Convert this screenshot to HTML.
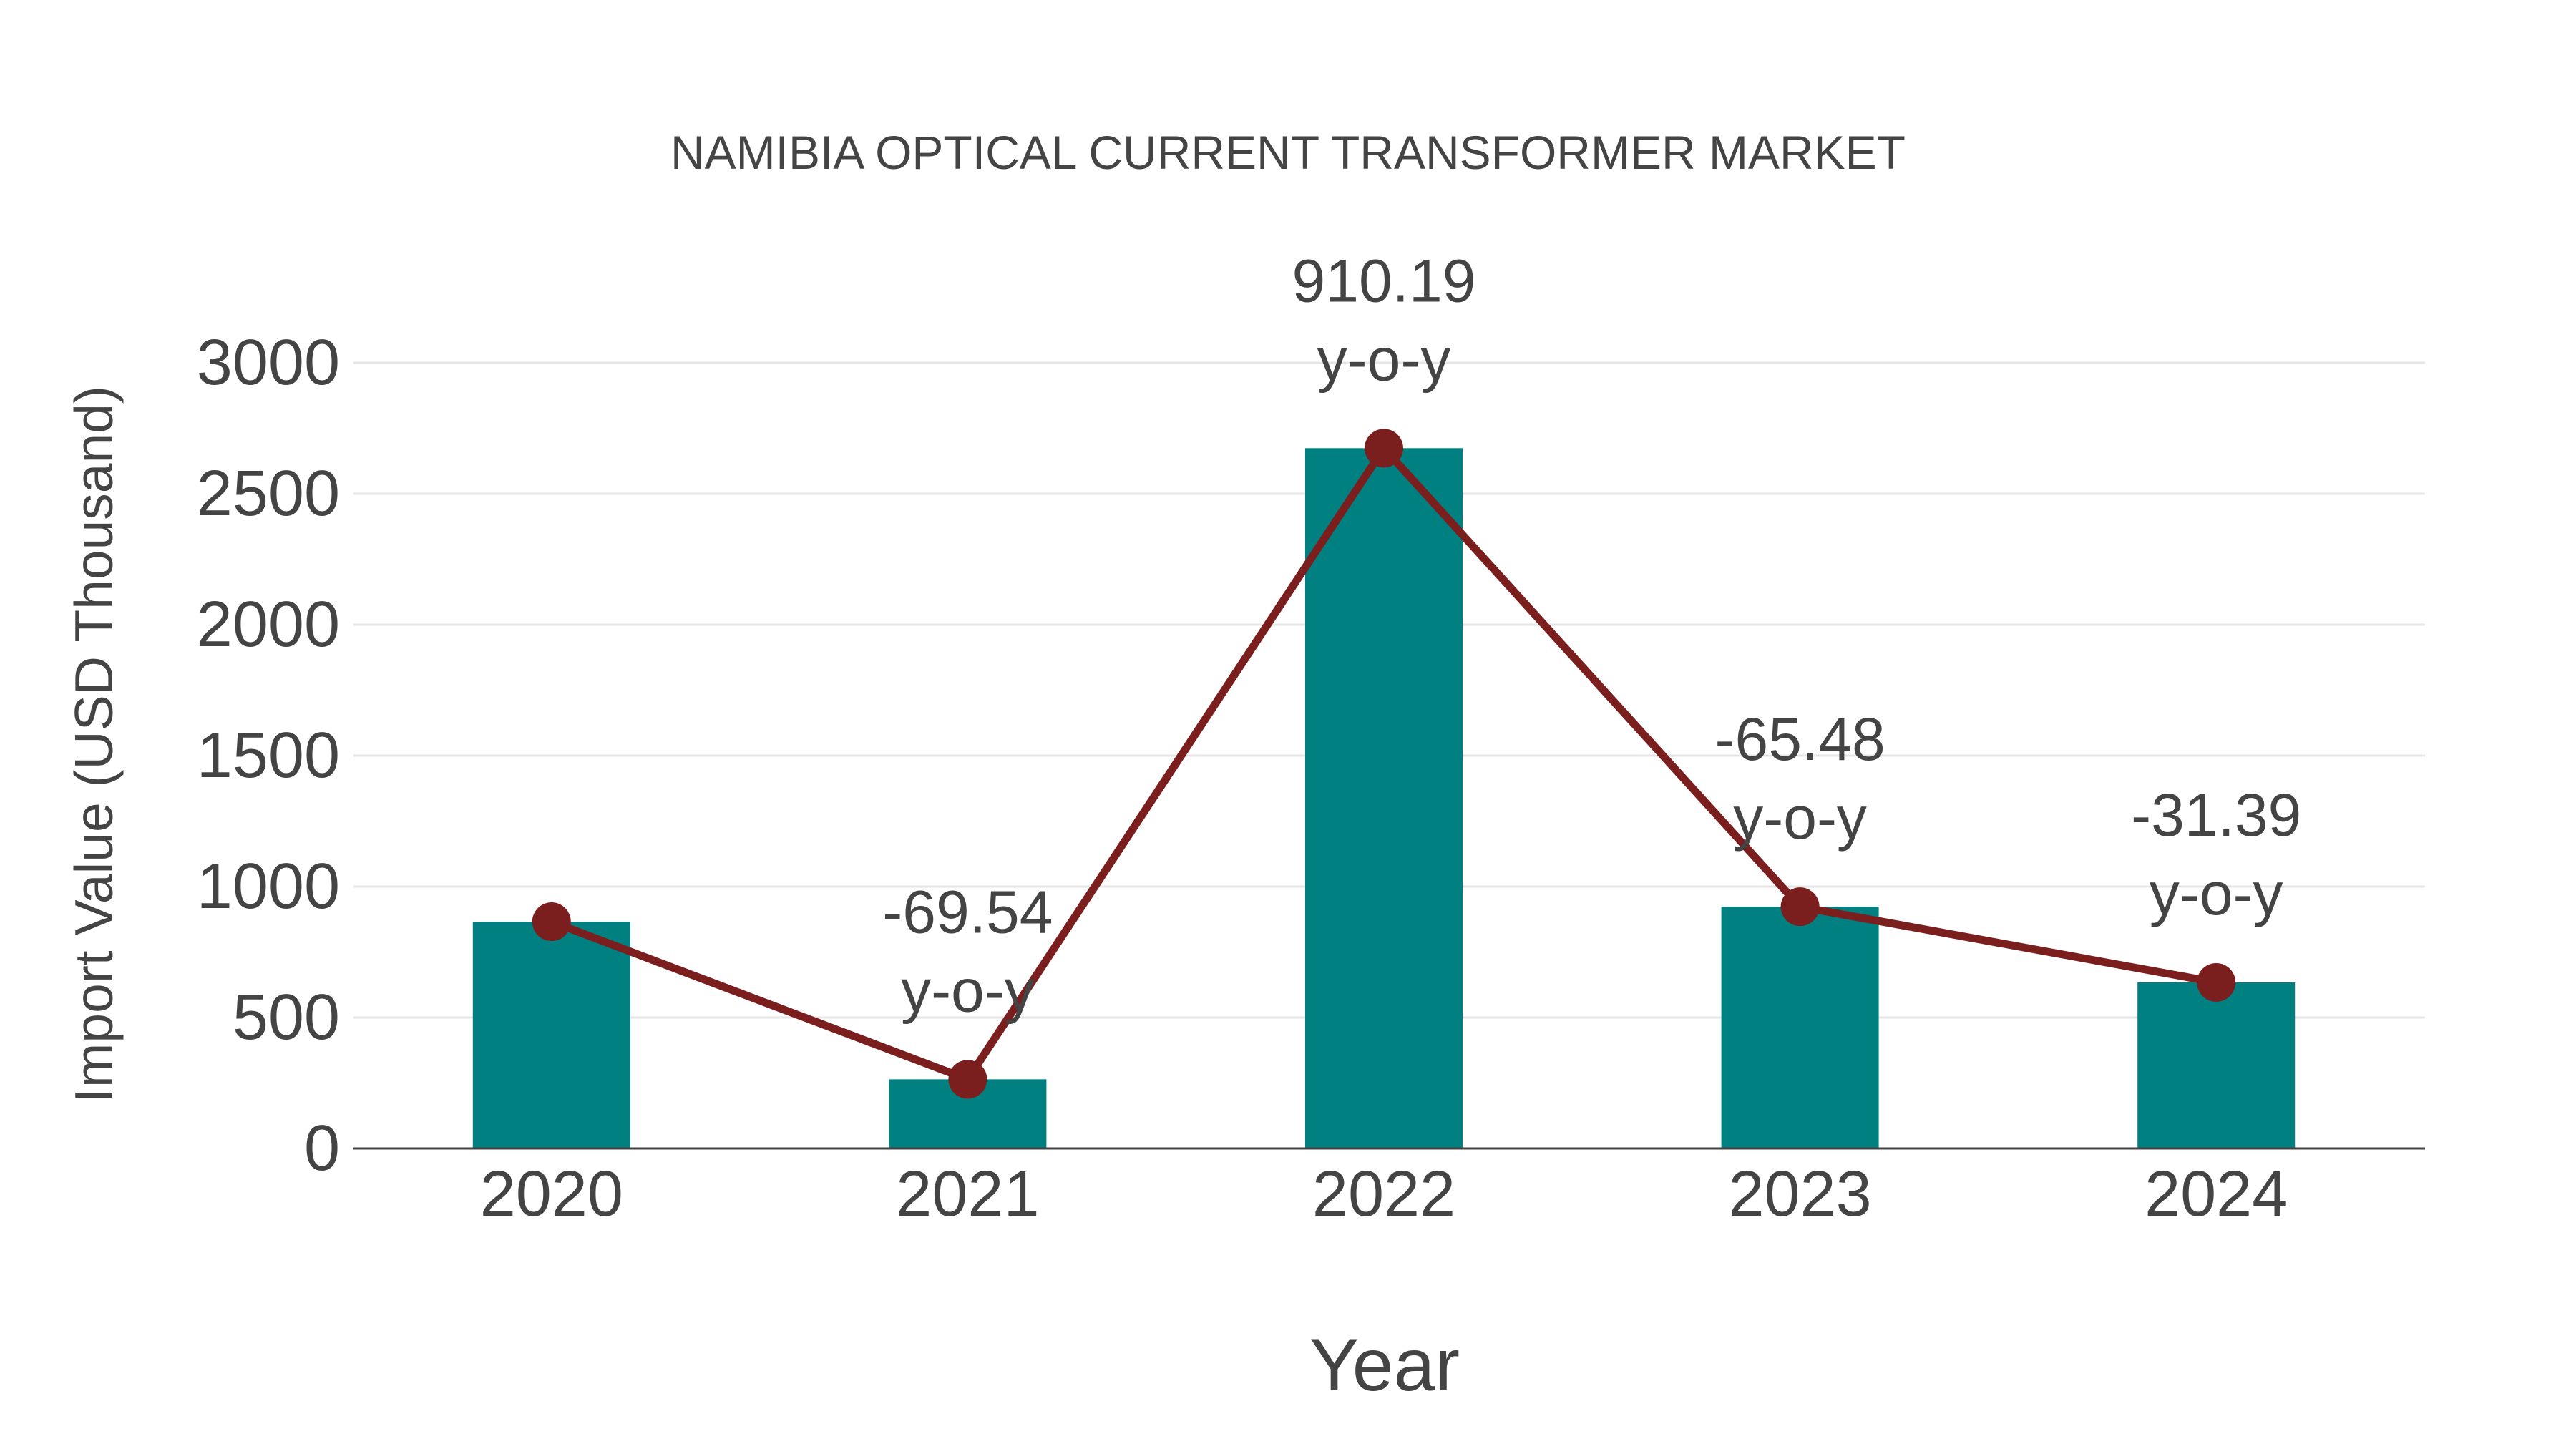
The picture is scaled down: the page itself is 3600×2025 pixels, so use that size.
<!DOCTYPE html>
<html><head><meta charset="utf-8"><style>
html,body{margin:0;padding:0;background:#fff;}
svg{display:block;font-family:"Liberation Sans",Arial,sans-serif;}
</style></head><body>
<svg id="chart" width="3600" height="2025" viewBox="0 0 3600 2025" xmlns="http://www.w3.org/2000/svg">
<rect width="3600" height="2025" fill="#fff"/>
<text x="1800" y="236" text-anchor="middle" font-size="66" fill="#444">NAMIBIA OPTICAL CURRENT TRANSFORMER MARKET</text>
<g id="grid"></g><g id="bars"></g><g id="axisg"></g><g id="line"></g><g id="labels"></g>
<text x="1935" y="1908" text-anchor="middle" dominant-baseline="central" font-size="104" fill="#444">Year</text>
<text transform="translate(131,1040) rotate(-90)" text-anchor="middle" dominant-baseline="central" font-size="75" fill="#444">Import Value (USD Thousand)</text>
</svg>
<script>
const categories = ["2020","2021","2022","2023","2024"];
const importValues = [866, 264, 2674, 923, 634];
const yoyLabels = ["", "-69.54", "910.19", "-65.48", "-31.39"];
const yTicks = [0, 500, 1000, 1500, 2000, 2500, 3000];

const NS = "http://www.w3.org/2000/svg";
const gx0 = 494, gx1 = 3389;
const x0 = 480, x1 = 3388, yBase = 1605, yTop = 507, yMax = 3000;
const band = (x1 - x0) / categories.length;
const xPos = i => x0 + band * (i + 0.5);
const yPos = v => yBase - (v / yMax) * (yBase - yTop);
function mk(tag, attrs, parent, txt) {
  const el = document.createElementNS(NS, tag);
  for (const k in attrs) el.setAttribute(k, attrs[k]);
  if (txt !== undefined) el.textContent = txt;
  document.getElementById(parent).appendChild(el);
  return el;
}
yTicks.forEach(t => {
  if (t > 0) {
    const g = mk("line", {x1: gx0, x2: gx1, y1: yPos(t), y2: yPos(t), stroke: "#e6e6e6", "stroke-width": 3}, "grid");
    
    
  }
  const lb = mk("text", {x: 475, y: yPos(t), "text-anchor": "end", "dominant-baseline": "central", "font-size": 90, fill: "#444"}, "labels", String(t));
  
  
});
const bw = 220;
categories.forEach((c, i) => {
  const v = importValues[i];
  const r = mk("rect", {x: xPos(i) - bw / 2, y: yPos(v), width: bw, height: yBase - yPos(v), fill: "#008080"}, "bars");
  
  
  const lb = mk("text", {x: xPos(i), y: 1669, "text-anchor": "middle", "dominant-baseline": "central", "font-size": 90, fill: "#444"}, "labels", c);
  
  
});
const axis = mk("line", {x1: gx0, x2: gx1, y1: yBase, y2: yBase, stroke: "#444", "stroke-width": 3}, "axisg");


const pts = importValues.map((v, i) => xPos(i) + "," + yPos(v)).join(" ");
const pl = mk("polyline", {points: pts, fill: "none", stroke: "#7b1e1e", "stroke-width": 11}, "line");


importValues.forEach((v, i) => {
  const c = mk("circle", {cx: xPos(i), cy: yPos(v), r: 27, fill: "#7b1e1e"}, "line");
  
  
  if (yoyLabels[i]) {
    const a = mk("text", {x: xPos(i), y: yPos(v) - 234, "text-anchor": "middle", "dominant-baseline": "central", "font-size": 84, fill: "#444"}, "labels", yoyLabels[i]);
    
    
    const b = mk("text", {x: xPos(i), y: yPos(v) - 124, "text-anchor": "middle", "dominant-baseline": "central", "font-size": 84, fill: "#444"}, "labels", "y-o-y");
    
    
  }
});
</script>
</body></html>
